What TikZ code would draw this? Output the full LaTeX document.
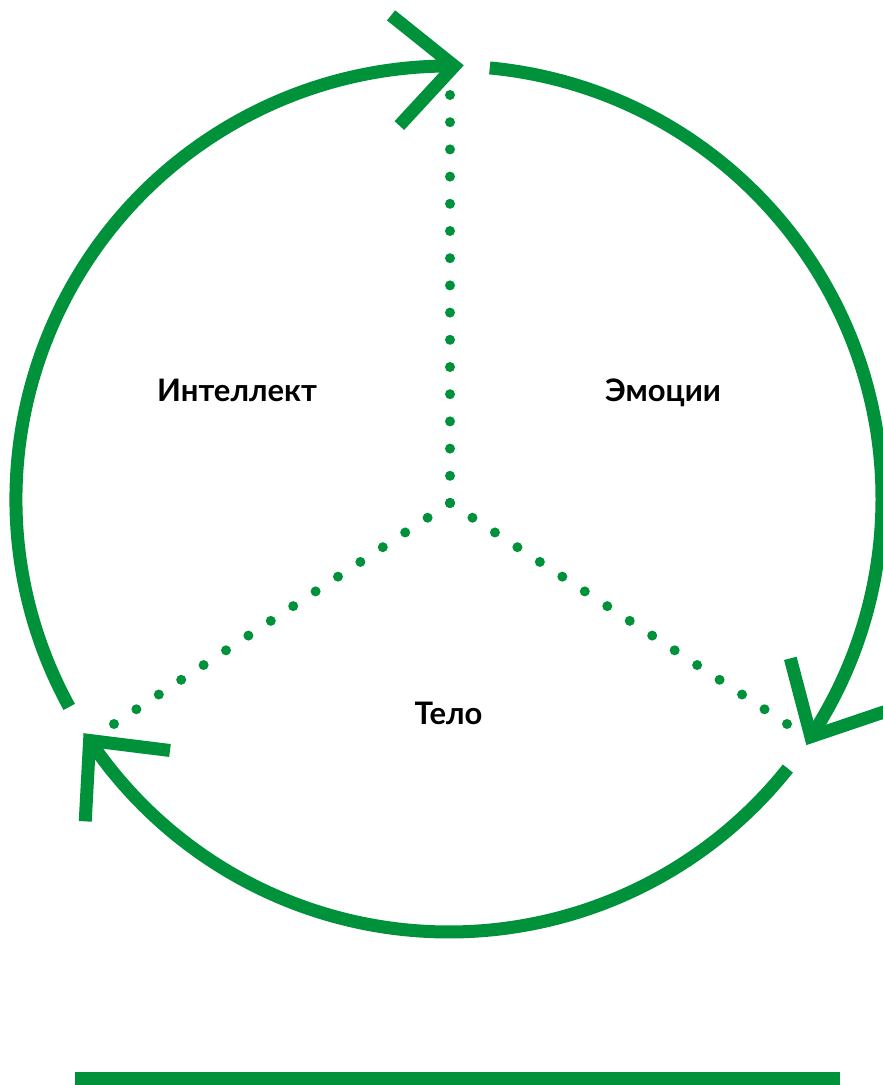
\documentclass[tikz,border=0pt]{standalone}
\usepackage{fontspec}
\newfontfamily\labfont{Lato}
\usetikzlibrary{calc}
\definecolor{leaf}{RGB}{0,146,58}
\tikzset{
  ring/.style={draw=leaf, line width=13pt, line cap=butt},
  chev/.style={draw=leaf, line width=13pt, line cap=butt, line join=miter},
  dotmark/.style={fill=leaf},
  lab/.style={font=\labfont\bfseries\fontsize{31}{34}\selectfont, text=black, inner sep=0pt, anchor=base}
}
\begin{document}
\begin{tikzpicture}[x=1pt,y=1pt]
\useasboundingbox (0,0) rectangle (883,1085);
\coordinate (C) at (449,586);
% arcs
\coordinate (sR) at ($(C)+(84.6:433)$);
\coordinate (vR) at ($(C)+(-33.3:433)$);
\coordinate (sB) at ($(C)+(-38.5:433)$);
\coordinate (vB) at ($(C)+(-146.1:433)$);
\coordinate (sL) at ($(C)+(208.7:433)$);
\coordinate (vT) at ($(C)+(89.3:433)$);
\draw[ring] (sR) arc (84.6:-33.3:433);
\draw[ring] (sB) arc (-38.5:-146.1:433);
\draw[ring] (sL) arc (208.7:89.3:433);
% arrowheads
\draw[chev] ($(vT)+(227.3:81)$) -- (vT) -- ($(vT)+(141.3:81)$);
\draw[chev] ($(vR)+(104.7:81)$) -- (vR) -- ($(vR)+(18.7:81)$);
\draw[chev] ($(vB)+(352.9:81)$) -- (vB) -- ($(vB)+(266.9:81)$);
% dotted spokes
\coordinate (D) at (450,582);
\coordinate (eT) at (450,990);
\coordinate (eL) at (114,361);
\coordinate (eR) at (787,361);
\foreach \e in {eT,eL,eR}{
  \foreach \i in {0,...,15}{
    \fill[dotmark] ($(D)!\i/15!(\e)$) circle (5);
  }
}
% labels
\node[lab] (intel) at (237,683) {Интеллект};
\node[lab] (emo) at (663,683) {Эмоции};
\node[lab] (body) at (448.5,360) {Тело};
% bottom bar
\fill[leaf] (75,0) rectangle (840,12.5);
\end{tikzpicture}
\end{document}
